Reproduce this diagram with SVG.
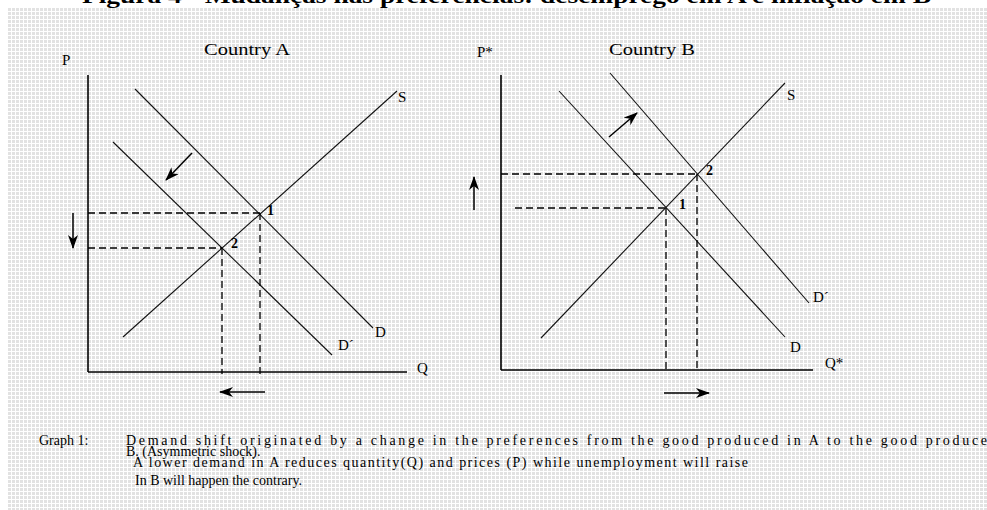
<svg xmlns="http://www.w3.org/2000/svg" width="987" height="510" viewBox="0 0 987 510">
<defs>
<pattern id="dots" x="8" y="8" width="4" height="4" patternUnits="userSpaceOnUse">
<rect width="4" height="4" fill="#ffffff"/>
<rect width="3" height="3" fill="#e2e2e2"/>
</pattern>
<marker id="ah" markerUnits="userSpaceOnUse" viewBox="0 0 14 10" markerWidth="14" markerHeight="10" refX="13" refY="5" orient="auto">
<path d="M0,0 L14,5 L0,10 L4,5 z" fill="#000"/>
</marker>
<style>
.ax{stroke:#000;stroke-width:1.6;fill:none}
.cv{stroke:#111;stroke-width:1.1;fill:none}
.dash{stroke:#000;stroke-width:1.3;stroke-dasharray:7 4;fill:none}
.arr{stroke:#000;stroke-width:1.5;fill:none;marker-end:url(#ah)}
.lb{font-family:"Liberation Serif","Times New Roman",serif;font-size:15px;fill:#000}
.hd{font-family:"Liberation Serif","Times New Roman",serif;font-size:16px;fill:#000}
.pt{font-family:"Liberation Serif","Times New Roman",serif;font-weight:bold;font-size:14px;fill:#000}
.cap{font-family:"Liberation Serif","Times New Roman",serif;font-size:14px;fill:#000}
.ttl{font-family:"Liberation Serif","Times New Roman",serif;font-weight:bold;font-size:22px;fill:#000}
</style>
</defs>
<rect x="0" y="0" width="987" height="510" fill="#ffffff"/>
<rect x="8" y="8" width="979" height="502" fill="url(#dots)"/>
<text class="ttl" x="82" y="3" textLength="849" lengthAdjust="spacingAndGlyphs">Figura 4 - Mudanças nas preferências: desemprego em A e inflação em B</text>

<g id="countryA">
<text class="hd" x="204" y="55" textLength="86" lengthAdjust="spacingAndGlyphs">Country A</text>
<text class="lb" x="62" y="65">P</text>
<line class="ax" x1="88" y1="75" x2="88" y2="372"/>
<line class="ax" x1="88" y1="372" x2="407" y2="372"/>
<text class="lb" x="417" y="373">Q</text>
<line class="cv" x1="135" y1="89" x2="373" y2="328"/>
<text class="lb" x="375" y="337">D</text>
<line class="cv" x1="113" y1="142" x2="332" y2="355"/>
<text class="lb" x="338" y="350">D´</text>
<line class="cv" x1="123" y1="337" x2="397" y2="91"/>
<text class="lb" x="398" y="102">S</text>
<line class="dash" x1="88" y1="213" x2="260" y2="213"/>
<line class="dash" x1="88" y1="248" x2="222" y2="248"/>
<line class="dash" x1="222" y1="248" x2="222" y2="374"/>
<line class="dash" x1="260" y1="213" x2="260" y2="374"/>
<text class="pt" x="267" y="215">1</text>
<text class="pt" x="231" y="248">2</text>
</g>

<g id="countryB">
<text class="hd" x="609" y="55" textLength="86" lengthAdjust="spacingAndGlyphs">Country B</text>
<text class="lb" x="477" y="57">P*</text>
<line class="ax" x1="501" y1="75" x2="501" y2="370"/>
<line class="ax" x1="501" y1="370" x2="813" y2="370"/>
<text class="lb" x="825" y="368">Q*</text>
<line class="cv" x1="559" y1="91" x2="785" y2="337"/>
<text class="lb" x="790" y="352">D</text>
<line class="cv" x1="610" y1="73" x2="809" y2="303"/>
<text class="lb" x="813" y="302">D´</text>
<line class="cv" x1="541" y1="338" x2="785" y2="83"/>
<text class="lb" x="787" y="100">S</text>
<line class="dash" x1="501" y1="174" x2="697" y2="174"/>
<line class="dash" x1="515" y1="208" x2="666" y2="208"/>
<line class="dash" x1="666" y1="208" x2="666" y2="370"/>
<line class="dash" x1="697" y1="174" x2="697" y2="370"/>
<text class="pt" x="706" y="175">2</text>
<text class="pt" x="679" y="209">1</text>
</g>

<g id="connectors">
<line class="arr" x1="192" y1="153" x2="166" y2="180"/>
<line class="arr" x1="73" y1="213" x2="73" y2="248"/>
<line class="arr" x1="265" y1="392" x2="220" y2="392"/>
<line class="arr" x1="609" y1="137" x2="637" y2="113"/>
<line class="arr" x1="474" y1="210" x2="474" y2="177"/>
<line class="arr" x1="664" y1="393" x2="709" y2="393"/>
</g>

<g id="caption">
<text class="cap" x="39" y="445">Graph 1:</text>
<text class="cap" x="126" y="445" textLength="861" lengthAdjust="spacing">Demand shift originated by a change in the preferences from the good produced in A to the good produce</text>
<text class="cap" x="126" y="456">B. (Asymmetric shock).</text>
<text class="cap" x="133" y="467" textLength="615" lengthAdjust="spacing">A lower demand in A reduces quantity(Q) and prices (P) while unemployment will raise</text>
<text class="cap" x="135" y="485">In B will happen the contrary.</text>
</g>
</svg>
